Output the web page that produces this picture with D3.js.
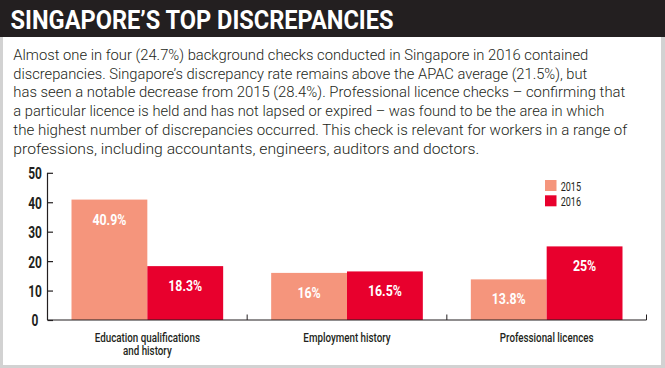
<!DOCTYPE html>
<html><head><meta charset="utf-8">
<script src="https://cdn.jsdelivr.net/npm/d3@7"></script>
<style>body{margin:0;background:#fff}svg{display:block}</style>
</head><body>
<svg id="c" width="665" height="368"></svg>
<script>
const title = "SINGAPORE\u2019S TOP DISCREPANCIES";
const paragraph = [
  "Almost one in four (24.7%) background checks conducted in Singapore in 2016 contained",
  "discrepancies. Singapore\u2019s discrepancy rate remains above the APAC average (21.5%), but",
  "has seen a notable decrease from 2015 (28.4%). Professional licence checks \u2013 confirming that",
  "a particular licence is held and has not lapsed or expired \u2013 was found to be the area in which",
  "the highest number of discrepancies occurred. This check is relevant for workers in a range of",
  "professions, including accountants, engineers, auditors and doctors."
];
const categories = ["Education qualifications\nand history", "Employment history", "Professional licences"];
const seriesNames = ["2015", "2016"];
const values2015 = [40.9, 16, 13.8];
const values2016 = [18.3, 16.5, 25];
const valueLabels2015 = ["40.9%", "16%", "13.8%"];
const valueLabels2016 = ["18.3%", "16.5%", "25%"];
const yTicks = [0, 10, 20, 30, 40, 50];

// layout (not data): rendered width of each paragraph line in the reference
const paraLineWidths = [575, 574, 612, 591, 614, 466];

const colors = {"2015": "#f5957c", "2016": "#e8002d"};
const dark = "#231f20";
const FONT = "Roboto, 'Liberation Sans', sans-serif";

const svg = d3.select("#c");
// frame
svg.append("rect").attr("x",0).attr("y",0).attr("width",665).attr("height",368).attr("fill","#d2d2d2");
svg.append("rect").attr("x",3).attr("y",36).attr("width",658).attr("height",329).attr("fill","#fff");
svg.append("rect").attr("x",0).attr("y",0).attr("width",665).attr("height",37).attr("fill",dark);

function measure(parent, txt, family, weight, size) {
  const tmp = parent.append("text").attr("font-family", family).attr("font-weight", weight)
    .attr("font-size", size).text(txt);
  const l = tmp.node().getComputedTextLength();
  tmp.remove();
  return l;
}
function squeeze(sel, k) {
  sel.each(function(){
    const l = this.getComputedTextLength();
    d3.select(this).attr("textLength", l * k).attr("lengthAdjust", "spacingAndGlyphs");
  });
}

// title
svg.append("text").attr("x", 10.5).attr("y", 28.5)
  .attr("font-family", FONT).attr("font-weight", 700).attr("font-size", 26)
  .attr("fill", "#fff").attr("textLength", 383).attr("lengthAdjust", "spacingAndGlyphs")
  .text(title);

// paragraph
svg.append("g").selectAll("text").data(paragraph).join("text")
  .attr("x", 13.3).attr("y", (d, i) => 60 + i * 18.7)
  .attr("font-family", FONT).attr("font-weight", 300).attr("font-size", 14.3)
  .attr("fill", dark)
  .attr("textLength", (d, i) => paraLineWidths[i]).attr("lengthAdjust", "spacingAndGlyphs")
  .text(d => d);

// chart
const x0 = d3.scaleBand().domain(categories).range([47.5, 646.5]).paddingInner(0).paddingOuter(0);
const x1 = d3.scaleBand().domain(seriesNames).range([24, x0.bandwidth() - 24]).padding(0);
const y = d3.scaleLinear().domain([0, 50]).range([320, 172.8]);

const rows = categories.map((c, i) => ({
  cat: c,
  bars: [
    {s: "2015", v: values2015[i], lab: valueLabels2015[i]},
    {s: "2016", v: values2016[i], lab: valueLabels2016[i]}
  ]
}));

const groups = svg.append("g").selectAll("g").data(rows).join("g")
  .attr("transform", d => `translate(${x0(d.cat)},0)`);
groups.selectAll("rect").data(d => d.bars).join("rect")
  .attr("x", d => x1(d.s)).attr("width", x1.bandwidth())
  .attr("y", d => y(d.v)).attr("height", d => y(0) - y(d.v))
  .attr("fill", d => colors[d.s]);
const vl = groups.selectAll("text").data(d => d.bars).join("text")
  .attr("x", d => x1(d.s) + x1.bandwidth() / 2).attr("y", d => y(d.v) + 25)
  .attr("text-anchor", "middle").attr("font-family", FONT).attr("font-weight", 700)
  .attr("font-size", 14).attr("fill", "#fff").text(d => d.lab);
squeeze(vl, 34 / measure(svg, "40.9%", FONT, 700, 14));

// y axis
const yAxis = svg.append("g").attr("transform", "translate(47.5,0)")
  .call(d3.axisLeft(y).tickValues(yTicks).tickSize(-5.5).tickPadding(0).tickFormat(d3.format("d")));
yAxis.select(".domain").attr("stroke", dark).attr("stroke-width", 1.2).attr("d", `M0,${y(50)}V${y(0)}`);
yAxis.selectAll(".tick line").attr("stroke", dark).attr("stroke-width", 1.2);
const yl = yAxis.selectAll(".tick text").attr("x", -12.5).attr("dy", "0.36em")
  .attr("text-anchor", "middle").attr("font-family", FONT).attr("font-weight", 700)
  .attr("font-size", 16.5).attr("fill", dark);
squeeze(yl, 13.7 / measure(svg, "50", FONT, 700, 16.5));

// x axis
const xAxis = svg.append("g").attr("transform", `translate(0,${y(0)})`);
xAxis.append("path").attr("d", `M47.5,0H${x0.range()[1]}`).attr("stroke", dark).attr("stroke-width", 1.2).attr("fill", "none");
xAxis.selectAll("line.b").data(categories).join("line").attr("class", "b")
  .attr("x1", d => x0(d) + x0.bandwidth()).attr("x2", d => x0(d) + x0.bandwidth())
  .attr("y1", 0).attr("y2", -5.5).attr("stroke", dark).attr("stroke-width", 1);
const catText = xAxis.selectAll("text.cat").data(categories).join("text").attr("class", "cat")
  .attr("x", d => x0(d) + x0.bandwidth() / 2).attr("y", 21.7)
  .attr("text-anchor", "middle").attr("font-family", FONT).attr("font-weight", 500)
  .attr("font-size", 12.5).attr("fill", dark);
catText.selectAll("tspan").data(d => d.split("\n").map((s, i) => ({s, i}))).join("tspan")
  .attr("x", function(){ return this.parentNode.getAttribute("x"); })
  .attr("dy", d => d.i ? 13.6 : 0).text(d => d.s);
{
  const k = 87.3 / measure(xAxis, "Employment history", FONT, 500, 12.5);
  catText.selectAll("tspan").each(function(){
    const l = this.getComputedTextLength();
    d3.select(this).attr("textLength", l * k).attr("lengthAdjust", "spacingAndGlyphs");
  });
}

// legend
const leg = svg.append("g").selectAll("g").data(seriesNames).join("g")
  .attr("transform", (d, i) => `translate(545,${180 + i * 15.3})`);
leg.append("rect").attr("width", 11.5).attr("height", 11).attr("fill", d => colors[d]);
const lt = leg.append("text").attr("x", 15.7).attr("y", 10.7)
  .attr("font-family", FONT).attr("font-weight", 400).attr("font-size", 13)
  .attr("fill", dark).text(d => d);
squeeze(lt, 20.3 / measure(svg, "2015", FONT, 400, 13));
</script>
</body></html>
